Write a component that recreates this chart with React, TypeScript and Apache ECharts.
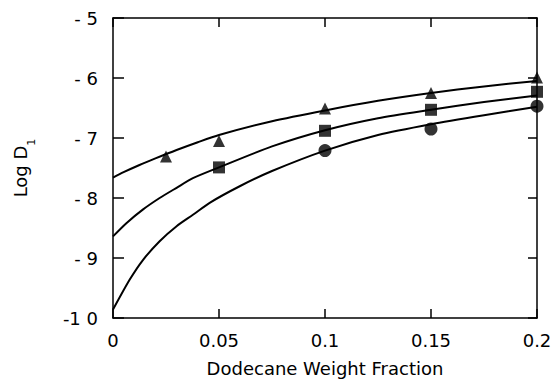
import React, { useEffect, useRef } from "react";
import * as echarts from "echarts";

// Fitted curves
const topCurveX = [0, 0.005, 0.0125, 0.02, 0.03, 0.04, 0.05, 0.075, 0.1, 0.125, 0.15, 0.175, 0.2];
const topCurveY = [-7.66, -7.57, -7.45, -7.34, -7.2, -7.07, -6.95, -6.72, -6.54, -6.38, -6.25, -6.14, -6.05];

const midCurveX = [0, 0.0063, 0.0142, 0.022, 0.03, 0.0377, 0.05, 0.075, 0.1, 0.125, 0.15, 0.175, 0.2];
const midCurveY = [-8.64, -8.42, -8.19, -8.0, -7.83, -7.67, -7.49, -7.14, -6.87, -6.67, -6.53, -6.4, -6.29];

const botCurveX = [0, 0.0079, 0.0142, 0.022, 0.03, 0.0377, 0.0456, 0.06, 0.075, 0.1, 0.125, 0.15, 0.175, 0.2];
const botCurveY = [-9.86, -9.36, -9.03, -8.72, -8.47, -8.28, -8.08, -7.8, -7.55, -7.21, -6.95, -6.77, -6.62, -6.48];

// Measured points
const triX = [0.025, 0.05, 0.1, 0.15, 0.2];
const triY = [-7.31, -7.05, -6.51, -6.25, -5.99];
const sqX = [0.05, 0.1, 0.15, 0.2];
const sqY = [-7.49, -6.88, -6.53, -6.23];
const circX = [0.1, 0.15, 0.2];
const circY = [-7.21, -6.85, -6.47];

const xTickLabels: Record<string, string> = { "0": "0", "0.05": "0.05", "0.1": "0.1", "0.15": "0.15", "0.2": "0.2" };
const yTickLabels: Record<string, string> = { "-5": "- 5", "-6": "- 6", "-7": "- 7", "-8": "- 8", "-9": "- 9", "-10": "-1 0" };

const FONT = "DejaVu Sans";
const pairs = (xs: number[], ys: number[]) => xs.map((x, i) => [x, ys[i]]);

export default function App() {
  const ref = useRef<HTMLDivElement>(null);
  useEffect(() => {
    if (!ref.current) return;
    const chart = echarts.init(ref.current, undefined, { renderer: "svg" });
    const axisLine = { show: true, onZero: false, lineStyle: { color: "#000", width: 1.5 } };
    const tick = { show: true, inside: true, length: 9, lineStyle: { color: "#000", width: 1.5 } };
    const curve = (xs: number[], ys: number[]) => ({
      type: "line",
      data: pairs(xs, ys),
      smooth: 0.25,
      showSymbol: false,
      lineStyle: { color: "#000", width: 2 },
      xAxisIndex: 0,
      yAxisIndex: 0,
      silent: true,
    });
    const pts = (xs: number[], ys: number[], symbol: string, size: number) => ({
      type: "scatter",
      data: pairs(xs, ys),
      symbol,
      symbolSize: size,
      itemStyle: { color: "#000" },
      clip: false,
      xAxisIndex: 0,
      yAxisIndex: 0,
    });
    chart.setOption({
      animation: false,
      backgroundColor: "#fff",
      grid: { left: 113, right: 18, top: 18, bottom: 60 },
      xAxis: [
        {
          type: "value",
          min: 0,
          max: 0.2,
          interval: 0.05,
          position: "bottom",
          axisLine,
          axisTick: tick,
          splitLine: { show: false },
          axisLabel: {
            color: "#000",
            fontFamily: FONT,
            fontSize: 18,
            margin: 13,
            formatter: (v: number) => xTickLabels[String(Math.round(v * 100) / 100)] ?? String(v),
          },
          name: "Dodecane Weight Fraction",
          nameLocation: "middle",
          nameGap: 41,
          nameTextStyle: { color: "#000", fontFamily: FONT, fontSize: 18 },
        },
        {
          type: "value",
          min: 0,
          max: 0.2,
          interval: 0.05,
          position: "top",
          axisLine,
          axisTick: tick,
          axisLabel: { show: false },
          splitLine: { show: false },
        },
      ],
      yAxis: [
        {
          type: "value",
          min: -10,
          max: -5,
          interval: 1,
          position: "left",
          axisLine,
          axisTick: { ...tick, length: 11 },
          splitLine: { show: false },
          axisLabel: {
            color: "#000",
            fontFamily: FONT,
            fontSize: 18,
            margin: 15,
            formatter: (v: number) => yTickLabels[String(v)] ?? String(v),
          },
          name: "{a|Log D}{b|1}",
          nameLocation: "middle",
          nameRotate: 90,
          nameGap: 76,
          nameTextStyle: {
            color: "#000",
            fontFamily: FONT,
            rich: {
              a: { fontFamily: FONT, fontSize: 18, color: "#000" },
              b: { fontFamily: FONT, fontSize: 11, color: "#000", lineHeight: 34, verticalAlign: "bottom" },
            },
          },
        },
        {
          type: "value",
          min: -10,
          max: -5,
          interval: 1,
          position: "right",
          axisLine,
          axisTick: tick,
          axisLabel: { show: false },
          splitLine: { show: false },
        },
      ],
      series: [
        curve(topCurveX, topCurveY),
        curve(midCurveX, midCurveY),
        curve(botCurveX, botCurveY),
        pts(triX, triY, "triangle", 12),
        pts(sqX, sqY, "rect", 12),
        pts(circX, circY, "circle", 13),
      ],
    });
    return () => chart.dispose();
  }, []);
  return <div ref={ref} style={{ width: 555, height: 382, position: "absolute", left: 0, top: 0 }} />;
}
